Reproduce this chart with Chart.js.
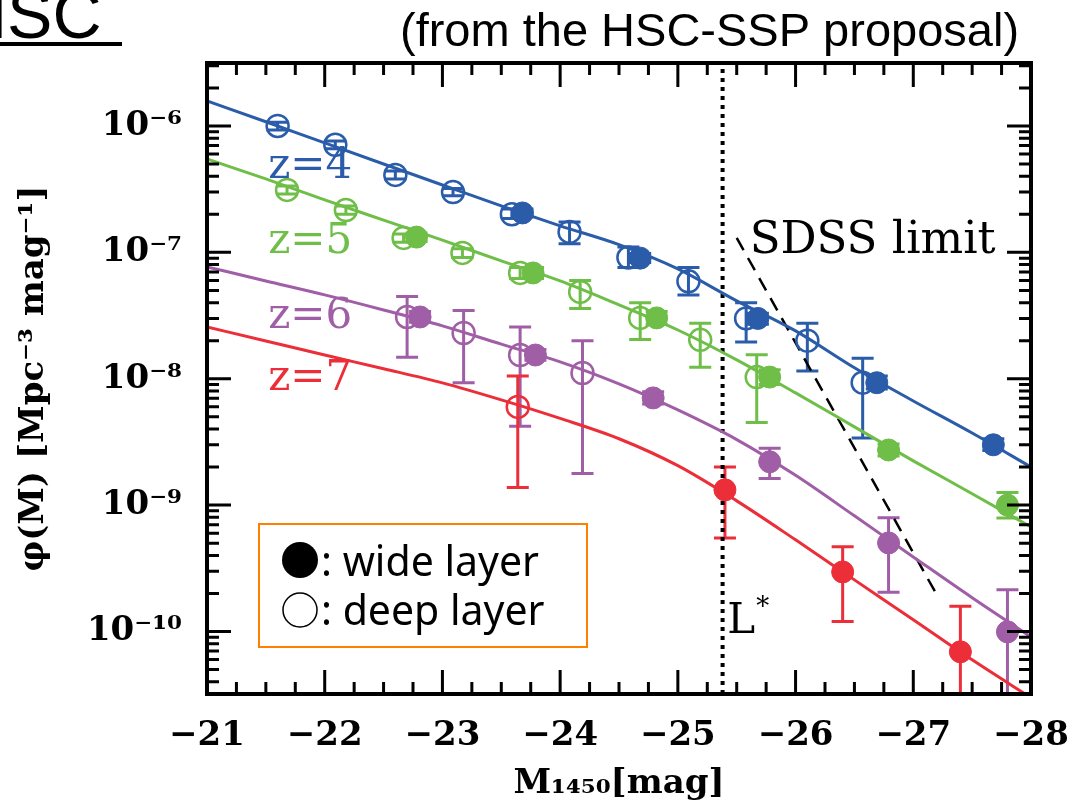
<!DOCTYPE html>
<html>
<head>
<meta charset="utf-8">
<script src="https://cdn.jsdelivr.net/npm/chart.js@4.4.1/dist/chart.umd.min.js"></script>
<style>
  html, body { margin: 0; padding: 0; background: #fff; }
  #wrap { position: relative; width: 1091px; height: 811px; }
</style>
</head>
<body>
<div id="wrap"><canvas id="lf" width="1091" height="811"></canvas></div>
<script>
// axis range
const xMin = -28, xMax = -21;
const yMin = 3.2e-11, yMax = 3.15e-6;

// fitted luminosity functions, sampled every 0.5 mag
const fitM  = [-21, -21.5, -22, -22.5, -23, -23.5, -24, -24.5, -25, -25.5, -26, -26.5, -27, -27.5, -28];
const fitZ4 = [1.58e-6, 1.08e-6, 7.34e-7, 5.00e-7, 3.41e-7, 2.33e-7, 1.62e-7, 1.15e-7, 7.39e-8, 4.13e-8, 2.39e-8, 1.22e-8, 6.67e-9, 3.72e-9, 2.00e-9];
const fitZ5 = [5.48e-7, 3.81e-7, 2.60e-7, 1.80e-7, 1.25e-7, 8.55e-8, 5.94e-8, 3.84e-8, 2.43e-8, 1.41e-8, 7.72e-9, 4.16e-9, 2.24e-9, 1.23e-9, 6.72e-10];
const fitZ6 = [7.67e-8, 5.94e-8, 4.61e-8, 3.50e-8, 2.62e-8, 1.88e-8, 1.36e-8, 9.10e-9, 5.66e-9, 3.30e-9, 1.72e-9, 8.22e-10, 3.89e-10, 1.85e-10, 9.06e-11];
const fitZ7 = [2.57e-8, 1.99e-8, 1.54e-8, 1.20e-8, 9.27e-9, 6.80e-9, 4.85e-9, 3.35e-9, 2.05e-9, 1.08e-9, 5.31e-10, 2.56e-10, 1.24e-10, 5.96e-11, 2.99e-11];

// z=4
const z4DeepM   = [-21.60, -22.09, -22.60, -23.09, -23.59, -24.08, -24.58, -25.09, -25.58, -26.10, -26.57];
const z4DeepPhi = [1.0e-6, 7.1e-7, 4.1e-7, 3.0e-7, 2.0e-7, 1.45e-7, 9.1e-8, 5.9e-8, 3.0e-8, 2.0e-8, 9.3e-9];
const z4DeepLo  = [9.3e-7, 6.6e-7, 3.8e-7, 2.8e-7, 1.85e-7, 1.17e-7, 7.6e-8, 4.6e-8, 1.95e-8, 1.15e-8, 3.4e-9];
const z4DeepHi  = [1.07e-6, 7.6e-7, 4.4e-7, 3.2e-7, 2.2e-7, 1.74e-7, 1.1e-7, 7.6e-8, 4.0e-8, 2.75e-8, 1.45e-8];
const z4WideM   = [-23.68, -24.68, -25.68, -26.69, -27.68];
const z4WidePhi = [2.05e-7, 9.0e-8, 3.0e-8, 9.3e-9, 3.0e-9];
const z4WideLo  = [1.9e-7, 8.3e-8, 2.7e-8, 8.3e-9, 2.7e-9];
const z4WideHi  = [2.2e-7, 9.8e-8, 3.3e-8, 1.05e-8, 3.35e-9];

// z=5
const z5DeepM   = [-21.68, -22.18, -22.67, -23.17, -23.66, -24.17, -24.68, -25.19, -25.67];
const z5DeepPhi = [3.12e-7, 2.16e-7, 1.30e-7, 9.9e-8, 6.87e-8, 4.86e-8, 3.03e-8, 2.03e-8, 1.03e-8];
const z5DeepLo  = [2.9e-7, 2.0e-7, 1.2e-7, 9.1e-8, 6.2e-8, 3.6e-8, 2.04e-8, 1.23e-8, 4.5e-9];
const z5DeepHi  = [3.35e-7, 2.33e-7, 1.4e-7, 1.07e-7, 7.6e-8, 6.0e-8, 4.0e-8, 2.75e-8, 1.55e-8];
const z5WideM   = [-22.78, -23.77, -24.82, -25.78, -26.79, -27.80];
const z5WidePhi = [1.32e-7, 6.87e-8, 3.03e-8, 1.03e-8, 2.73e-9, 1.0e-9];
const z5WideLo  = [1.22e-7, 6.2e-8, 2.7e-8, 9.0e-9, 2.45e-9, 7.9e-10];
const z5WideHi  = [1.42e-7, 7.6e-8, 3.4e-8, 1.18e-8, 3.05e-9, 1.26e-9];

// z=6
const z6DeepM   = [-22.70, -23.18, -23.66, -24.19];
const z6DeepPhi = [3.08e-8, 2.30e-8, 1.54e-8, 1.11e-8];
const z6DeepLo  = [1.48e-8, 9.3e-9, 4.2e-9, 1.78e-9];
const z6DeepHi  = [4.47e-8, 3.47e-8, 2.57e-8, 2.0e-8];
const z6WideM   = [-22.81, -23.79, -24.79, -25.78, -26.79, -27.80];
const z6WidePhi = [3.08e-8, 1.54e-8, 7.05e-9, 2.20e-9, 5.02e-10, 9.93e-11];
const z6WideLo  = [2.8e-8, 1.4e-8, 6.3e-9, 1.62e-9, 2.04e-10, 1e-11];
const z6WideHi  = [3.4e-8, 1.7e-8, 7.9e-9, 2.82e-9, 7.94e-10, 2.14e-10];

// z=7
const z7DeepM   = [-23.64];
const z7DeepPhi = [5.98e-9];
const z7DeepLo  = [1.38e-9];
const z7DeepHi  = [1.05e-8];
const z7WideM   = [-25.40, -26.40, -27.40];
const z7WidePhi = [1.32e-9, 2.96e-10, 6.9e-11];
const z7WideLo  = [5.5e-10, 1.2e-10, 1e-11];
const z7WideHi  = [2.0e-9, 4.68e-10, 1.58e-10];

// SDSS limit and L*
const sdssM   = [-25.50, -27.20];
const sdssPhi = [1.30e-7, 1.95e-10];
const lStarM  = -25.38;

const BLUE = 'rgb(42,92,170)', GREEN = 'rgb(110,190,72)', PURPLE = 'rgb(160,94,166)', RED = 'rgb(236,46,56)';

const pts = (ms, ys) => ms.map((m, i) => ({ x: m, y: ys[i] }));

function fitSet(ys, color) {
  return { type: 'line', data: pts(fitM, ys), borderColor: color, borderWidth: 3,
           pointRadius: 0, cubicInterpolationMode: 'monotone', fill: false, order: 2 };
}
function deepSet(ms, ys, lo, hi, color) {
  return { type: 'scatter', data: pts(ms, ys), errLo: lo, errHi: hi,
           borderColor: color, backgroundColor: 'rgba(255,255,255,0)', pointBorderWidth: 2.5,
           pointRadius: 11, pointHoverRadius: 11, order: 1 };
}
function wideSet(ms, ys, lo, hi, color) {
  return { type: 'scatter', data: pts(ms, ys), errLo: lo, errHi: hi,
           borderColor: color, backgroundColor: color, pointBorderWidth: 1,
           pointRadius: 11, pointHoverRadius: 11, order: 0 };
}

const supMap = { '-': '\u207B', '0': '\u2070', '1': '\u00B9', '2': '\u00B2', '3': '\u00B3',
                 '4': '\u2074', '5': '\u2075', '6': '\u2076', '7': '\u2077', '8': '\u2078', '9': '\u2079' };
const toSup = n => String(n).split('').map(c => supMap[c]).join('');

const SERIF = '"DejaVu Serif", "Liberation Serif", serif';
const SANS = '"Liberation Sans", Arial, sans-serif';

// error bars, drawn below the markers
const errorBars = {
  id: 'errorBars',
  beforeDatasetsDraw(chart) {
    const { ctx, chartArea: a, scales: { x, y } } = chart;
    ctx.save();
    ctx.beginPath();
    ctx.rect(a.left, a.top, a.right - a.left, a.bottom - a.top);
    ctx.clip();
    chart.data.datasets.forEach(ds => {
      if (!ds.errLo) return;
      ctx.strokeStyle = ds.borderColor;
      ctx.lineWidth = 3;
      ds.data.forEach((p, i) => {
        const px = x.getPixelForValue(p.x);
        const yl = y.getPixelForValue(ds.errLo[i]);
        const yh = y.getPixelForValue(ds.errHi[i]);
        ctx.beginPath();
        ctx.moveTo(px, yl); ctx.lineTo(px, yh);
        ctx.moveTo(px - 11, yl); ctx.lineTo(px + 11, yl);
        ctx.moveTo(px - 11, yh); ctx.lineTo(px + 11, yh);
        ctx.stroke();
      });
    });
    ctx.restore();
  }
};

// frame with inward ticks on all four sides
const frame = {
  id: 'frame',
  afterDatasetsDraw(chart) {
    const { ctx, chartArea: a, scales: { x, y } } = chart;
    ctx.save();
    ctx.strokeStyle = '#000';
    ctx.lineWidth = 3;
    ctx.beginPath();
    for (let m = xMin; m <= xMax + 1e-9; m += 0.25) {
      const px = x.getPixelForValue(m);
      const len = Math.abs(m - Math.round(m)) < 1e-9 ? 24 : 12;
      ctx.moveTo(px, a.bottom); ctx.lineTo(px, a.bottom - len);
      ctx.moveTo(px, a.top); ctx.lineTo(px, a.top + len);
    }
    for (let e = -11; e <= -6; e++) {
      for (let k = 1; k <= 9; k++) {
        const v = k * Math.pow(10, e);
        if (v < yMin || v > yMax) continue;
        const py = y.getPixelForValue(v);
        const len = k === 1 ? 24 : 12;
        ctx.moveTo(a.left, py); ctx.lineTo(a.left + len, py);
        ctx.moveTo(a.right, py); ctx.lineTo(a.right - len, py);
      }
    }
    ctx.stroke();
    ctx.lineWidth = 4;
    ctx.strokeRect(a.left, a.top, a.right - a.left, a.bottom - a.top);
    ctx.restore();
  }
};

// labels, legend box and header text
const notes = {
  id: 'notes',
  afterDraw(chart) {
    const { ctx, chartArea: a, scales: { x, y } } = chart;
    ctx.save();
    ctx.textBaseline = 'alphabetic';
    ctx.textAlign = 'left';

    ctx.font = '42px ' + SERIF;
    const zLab = [['z=4', BLUE, 3.88e-7], ['z=5', GREEN, 9.9e-8], ['z=6', PURPLE, 2.52e-8], ['z=7', RED, 8.15e-9]];
    zLab.forEach(([t, c, v]) => {
      ctx.fillStyle = c;
      ctx.fillText(t, x.getPixelForValue(-21.52), y.getPixelForValue(v));
    });

    ctx.fillStyle = '#000';
    ctx.font = '45px ' + SERIF;
    ctx.fillText('SDSS limit', x.getPixelForValue(-25.61), y.getPixelForValue(9.9e-8));

    const lx = x.getPixelForValue(-25.42), ly = y.getPixelForValue(9.75e-11);
    ctx.font = '42px ' + SERIF;
    ctx.fillText('L', lx, ly);
    const lw = ctx.measureText('L').width;
    ctx.font = '26px ' + SERIF;
    ctx.fillText('*', lx + lw + 1, ly - 18);

    // legend box
    const bx = a.left + 52, by = a.top + 461, bw = 328, bh = 123;
    ctx.fillStyle = '#fff';
    ctx.fillRect(bx, by, bw, bh);
    ctx.strokeStyle = 'rgb(255,128,0)';
    ctx.lineWidth = 2;
    ctx.strokeRect(bx, by, bw, bh);
    ctx.fillStyle = '#000';
    ctx.strokeStyle = '#000';
    ctx.beginPath();
    ctx.arc(bx + 41, by + 36, 18, 0, Math.PI * 2);
    ctx.fill();
    ctx.lineWidth = 1.5;
    ctx.beginPath();
    ctx.arc(bx + 41, by + 86, 17, 0, Math.PI * 2);
    ctx.stroke();
    ctx.font = '41px "Noto Sans", sans-serif';
    ctx.fillText(': wide layer', bx + 62, by + 52);
    ctx.fillText(': deep layer', bx + 62, by + 101);

    // header
    ctx.font = '68px ' + SANS;
    ctx.fillText('HSC', -42, 38);
    ctx.fillRect(0, 42, 122, 4);
    ctx.font = '47px ' + SANS;
    ctx.fillText('(from the HSC-SSP proposal)', 400, 46);
    ctx.restore();
  }
};

new Chart(document.getElementById('lf'), {
  data: {
    datasets: [
      wideSet(z4WideM, z4WidePhi, z4WideLo, z4WideHi, BLUE),
      wideSet(z5WideM, z5WidePhi, z5WideLo, z5WideHi, GREEN),
      wideSet(z6WideM, z6WidePhi, z6WideLo, z6WideHi, PURPLE),
      wideSet(z7WideM, z7WidePhi, z7WideLo, z7WideHi, RED),
      deepSet(z4DeepM, z4DeepPhi, z4DeepLo, z4DeepHi, BLUE),
      deepSet(z5DeepM, z5DeepPhi, z5DeepLo, z5DeepHi, GREEN),
      deepSet(z6DeepM, z6DeepPhi, z6DeepLo, z6DeepHi, PURPLE),
      deepSet(z7DeepM, z7DeepPhi, z7DeepLo, z7DeepHi, RED),
      fitSet(fitZ4, BLUE),
      fitSet(fitZ5, GREEN),
      fitSet(fitZ6, PURPLE),
      fitSet(fitZ7, RED),
      { type: 'line', data: pts(sdssM, sdssPhi), borderColor: '#000', borderWidth: 2.5,
        borderDash: [14, 9], pointRadius: 0, order: 3 },
      { type: 'line', data: [{ x: lStarM, y: yMin }, { x: lStarM, y: yMax }], borderColor: '#000',
        borderWidth: 4, borderDash: [4, 5], pointRadius: 0, order: 3 }
    ]
  },
  options: {
    responsive: false,
    animation: false,
    devicePixelRatio: 1,
    layout: { padding: { top: 63, right: 60, left: 0, bottom: 0 } },
    plugins: { legend: { display: false }, tooltip: { enabled: false } },
    scales: {
      x: {
        type: 'linear', reverse: true, min: xMin, max: xMax,
        grid: { display: false, drawTicks: false }, border: { display: false },
        ticks: { stepSize: 1, maxRotation: 0, autoSkip: false, padding: 22, color: '#000',
                 font: { family: SERIF, weight: 'bold', size: 34 },
                 callback: v => '\u2212' + Math.abs(v) },
        title: { display: true, text: 'M\u2081\u2084\u2085\u2080[mag]', color: '#000',
                 font: { family: SERIF, weight: 'bold', size: 34 }, padding: { top: 0, bottom: 6 } },
        afterFit: s => { s.height = 117; }
      },
      y: {
        type: 'logarithmic', min: yMin, max: yMax,
        grid: { display: false, drawTicks: false }, border: { display: false },
        ticks: { autoSkip: false, padding: 25, color: '#000',
                 font: { family: SERIF, weight: 'bold', size: 34 },
                 callback: v => {
                   const e = Math.log10(v), r = Math.round(e);
                   return Math.abs(e - r) < 1e-6 ? '10' + toSup(r) : '';
                 } },
        title: { display: true, text: '\u03C6(M) [Mpc\u207B\u00B3 mag\u207B\u00B9]', color: '#000',
                 font: { family: SERIF, weight: 'bold', size: 34 }, padding: { top: 14, bottom: 0 } },
        afterFit: s => { s.width = 207; }
      }
    }
  },
  plugins: [errorBars, frame, notes]
});
</script>
</body>
</html>
